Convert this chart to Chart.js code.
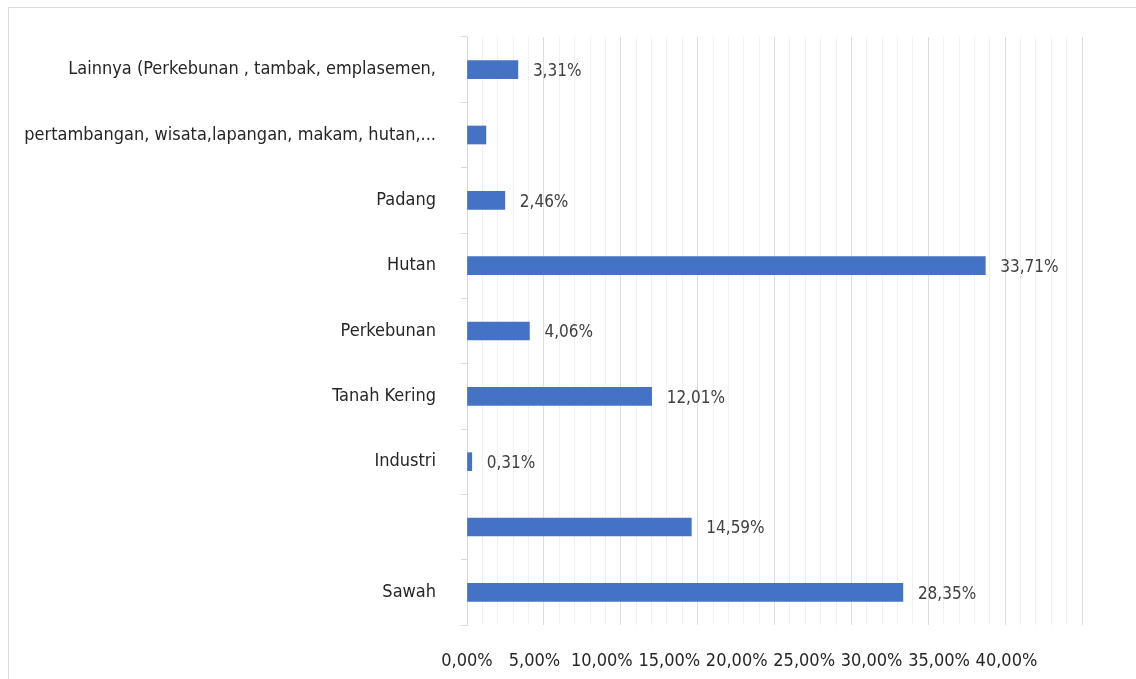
<!DOCTYPE html>
<html>
<head>
<meta charset="utf-8">
<script src="https://cdn.jsdelivr.net/npm/chart.js@4/dist/chart.umd.min.js"></script>
<style>
  html, body { margin: 0; padding: 0; background: #fff; }
  #frame { position: absolute; left: 8px; top: 7px; width: 1140px; height: 690px; border: 1px solid #dcdcdc; }
  #wrap { position: absolute; left: 0; top: 0; width: 1136px; height: 679px; }
</style>
</head>
<body>
<div id="frame"></div>
<div id="wrap"><canvas id="landChart" width="1136" height="679"></canvas></div>
<script>
const categories = [
    'Lainnya (Perkebunan , tambak, emplasemen,',
    'pertambangan, wisata,lapangan, makam, hutan,...',
    'Padang',
    'Hutan',
    'Perkebunan',
    'Tanah Kering',
    'Industri',
    '',
    'Sawah'
];
const shareValues = [3.31, 1.23, 2.46, 33.71, 4.06, 12.01, 0.31, 14.59, 28.35];
const valueLabels = ['3,31%', '', '2,46%', '33,71%', '4,06%', '12,01%', '0,31%', '14,59%', '28,35%'];
const tickLabels = ['0,00%', '5,00%', '10,00%', '15,00%', '20,00%', '25,00%', '30,00%', '35,00%', '40,00%'];

const labelFont = "'Liberation Sans Narrow', 'DejaVu Sans Condensed', sans-serif";

const valueLabelPlugin = {
    id: 'valueLabels',
    afterDatasetsDraw(chart) {
        const ctx = chart.ctx;
        const meta = chart.getDatasetMeta(0);
        ctx.save();
        ctx.font = '17px ' + labelFont;
        ctx.fillStyle = '#404040';
        ctx.textAlign = 'left';
        ctx.textBaseline = 'middle';
        meta.data.forEach((bar, i) => {
            if (!valueLabels[i]) return;
            ctx.fillText(valueLabels[i], bar.x + 15, bar.y + 2);
        });
        ctx.restore();
    }
};

const ctx = document.getElementById('landChart').getContext('2d');

new Chart(ctx, {
    type: 'bar',
    data: {
        labels: categories,
        datasets: [{
            data: shareValues,
            backgroundColor: '#4472C4',
            borderWidth: 0,
            barThickness: 18
        }]
    },
    options: {
        indexAxis: 'y',
        responsive: false,
        animation: false,
        layout: { padding: { top: 37, right: 54, left: 0, bottom: 0 } },
        plugins: {
            legend: { display: false },
            tooltip: { enabled: false }
        },
        scales: {
            y: {
                grid: {
                    drawOnChartArea: false,
                    drawTicks: true,
                    tickLength: 6,
                    color: '#d9d9d9'
                },
                border: { color: '#d9d9d9' },
                ticks: {
                    color: '#262626',
                    font: { family: labelFont, size: 18 },
                    padding: 25
                },
                afterFit: s => { s.width = 467; }
            },
            x: {
                position: 'bottom',
                min: 0,
                max: 40,
                ticks: { stepSize: 1, display: false },
                grid: {
                    drawTicks: false,
                    color: c => (c.tick && c.tick.value % 5 === 0) ? '#dedede' : '#f0f0f0'
                },
                border: { display: false },
                afterFit: s => { s.height = 0; }
            },
            x2: {
                position: 'bottom',
                min: 0,
                max: 45.6,
                grid: { display: false },
                border: { display: false },
                ticks: {
                    stepSize: 5,
                    color: '#262626',
                    font: { family: labelFont, size: 18 },
                    padding: 18,
                    callback: (v) => tickLabels[Math.round(v / 5)] || ''
                },
                afterFit: s => { s.height = 54; }
            }
        }
    },
    plugins: [valueLabelPlugin]
});
</script>
</body>
</html>
